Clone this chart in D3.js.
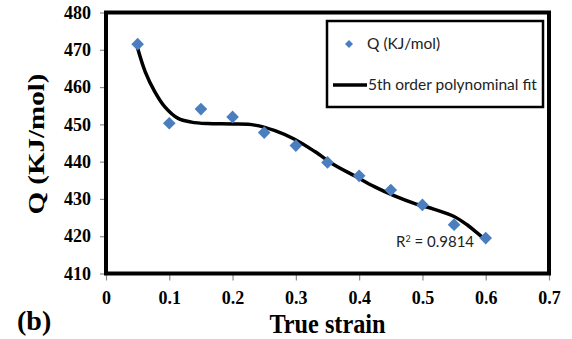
<!DOCTYPE html>
<html>
<head>
<meta charset="utf-8">
<script src="https://cdn.jsdelivr.net/npm/d3@7"></script>
<style>
  body { margin: 0; background: #fff; }
  svg { display: block; }
</style>
</head>
<body>
<svg id="chart" width="572" height="339"></svg>
<script>
// measured points
var strain = [0.05, 0.1, 0.15, 0.2, 0.25, 0.3, 0.35, 0.4, 0.45, 0.5, 0.55, 0.6];
var qValues = [471.5, 450.3, 454.1, 452.0, 447.8, 444.3, 439.8, 436.2, 432.4, 428.4, 423.1, 419.5];

// fit line
var fitStrain = [0.05, 0.062, 0.077, 0.093, 0.114, 0.135, 0.16, 0.2, 0.235, 0.267, 0.298, 0.33, 0.361, 0.395, 0.424, 0.456, 0.487, 0.519, 0.55, 0.571, 0.587, 0.6];
var fitQ = [470.4, 464.1, 458.8, 454.7, 451.6, 450.6, 450.2, 450.1, 449.8, 448.3, 446.0, 442.7, 439.1, 436.0, 433.3, 430.8, 428.8, 427.2, 425.3, 423.0, 420.8, 419.0];

var xTicks = [0, 0.1, 0.2, 0.3, 0.4, 0.5, 0.6, 0.7];
var yTicks = [410, 420, 430, 440, 450, 460, 470, 480];

var svg = d3.select('#chart');
var serif = '"Liberation Serif", "Times New Roman", serif';
var sans = 'Lato, "Open Sans", sans-serif';
var blue = '#4a7ebf';

var x = d3.scaleLinear().domain([0, 0.7]).range([106, 549]);
var y = d3.scaleLinear().domain([410, 480]).range([273.5, 12.5]);

// axes (ticks only, frame drawn separately)
var xAxis = svg.append('g')
    .attr('transform', 'translate(0,' + y(410) + ')')
    .call(d3.axisBottom(x).tickValues(xTicks).tickSize(7).tickPadding(11)
        .tickFormat(function (d) { return d === 0 ? '0' : d3.format('.1f')(d); }));

var yAxis = svg.append('g')
    .attr('transform', 'translate(' + x(0) + ',0)')
    .call(d3.axisLeft(y).tickValues(yTicks).tickSize(6).tickPadding(9));

[xAxis, yAxis].forEach(function (ax) {
    ax.select('.domain').remove();
    ax.selectAll('line').attr('stroke', '#8c8c8c').attr('stroke-width', 1.2);
    ax.selectAll('text')
        .attr('fill', '#000')
        .style('font-family', serif)
        .style('font-weight', 'bold')
        .style('font-size', '18px');
});

// plot frame
svg.append('rect')
    .attr('x', x(0))
    .attr('y', y(480))
    .attr('width', x(0.7) - x(0))
    .attr('height', y(410) - y(480))
    .attr('fill', 'none')
    .attr('stroke', '#000')
    .attr('stroke-width', 4);

// fit curve
var line = d3.line()
    .x(function (d) { return x(d[0]); })
    .y(function (d) { return y(d[1]); })
    .curve(d3.curveCatmullRom);

svg.append('path')
    .datum(d3.zip(fitStrain, fitQ))
    .attr('d', line)
    .attr('fill', 'none')
    .attr('stroke', '#000')
    .attr('stroke-width', 3.5)
    .attr('stroke-linecap', 'round');

// data markers
var diamond = d3.symbol().type(d3.symbolSquare).size(80);
svg.append('g').selectAll('path')
    .data(d3.zip(strain, qValues))
    .enter()
    .append('path')
    .attr('d', diamond)
    .attr('transform', function (d) {
        return 'translate(' + x(d[0]) + ',' + y(d[1]) + ') rotate(45)';
    })
    .attr('fill', blue);

// R2 label
svg.append('text')
    .attr('x', 396)
    .attr('y', 247)
    .style('font-family', sans)
    .style('font-size', '15px')
    .attr('fill', '#222')
    .html('R<tspan dy="-5" font-size="9px">2</tspan><tspan dy="5"> = 0.9814</tspan>');

// legend
var legend = svg.append('g');
legend.append('rect')
    .attr('x', 327).attr('y', 21)
    .attr('width', 216).attr('height', 86)
    .attr('fill', '#fff')
    .attr('stroke', '#000')
    .attr('stroke-width', 2.5);
legend.append('path')
    .attr('d', d3.symbol().type(d3.symbolSquare).size(32))
    .attr('transform', 'translate(349,44) rotate(45)')
    .attr('fill', blue);
legend.append('text')
    .attr('x', 367).attr('y', 49)
    .style('font-family', sans)
    .style('font-size', '15.5px')
    .attr('fill', '#222')
    .text('Q (KJ/mol)');
legend.append('line')
    .attr('x1', 333).attr('x2', 367)
    .attr('y1', 85).attr('y2', 85)
    .attr('stroke', '#000')
    .attr('stroke-width', 3.5);
legend.append('text')
    .attr('x', 368).attr('y', 90)
    .style('font-family', sans)
    .style('font-size', '15.5px')
    .attr('fill', '#222')
    .text('5th order polynominal fit');

// axis titles
svg.append('text')
    .attr('transform', 'translate(' + (x(0) + x(0.7)) / 2 + ',333) scale(0.9,1)')
    .attr('text-anchor', 'middle')
    .style('font-family', serif)
    .style('font-weight', 'bold')
    .style('font-size', '27px')
    .text('True strain');

svg.append('text')
    .attr('transform', 'translate(44,144) rotate(-90) scale(1,0.78)')
    .attr('text-anchor', 'middle')
    .style('font-family', serif)
    .style('font-weight', 'bold')
    .style('font-size', '29px')
    .text('Q (KJ/mol)');

svg.append('text')
    .attr('x', 17).attr('y', 330)
    .style('font-family', serif)
    .style('font-weight', 'bold')
    .style('font-size', '28px')
    .text('(b)');
</script>
</body>
</html>
